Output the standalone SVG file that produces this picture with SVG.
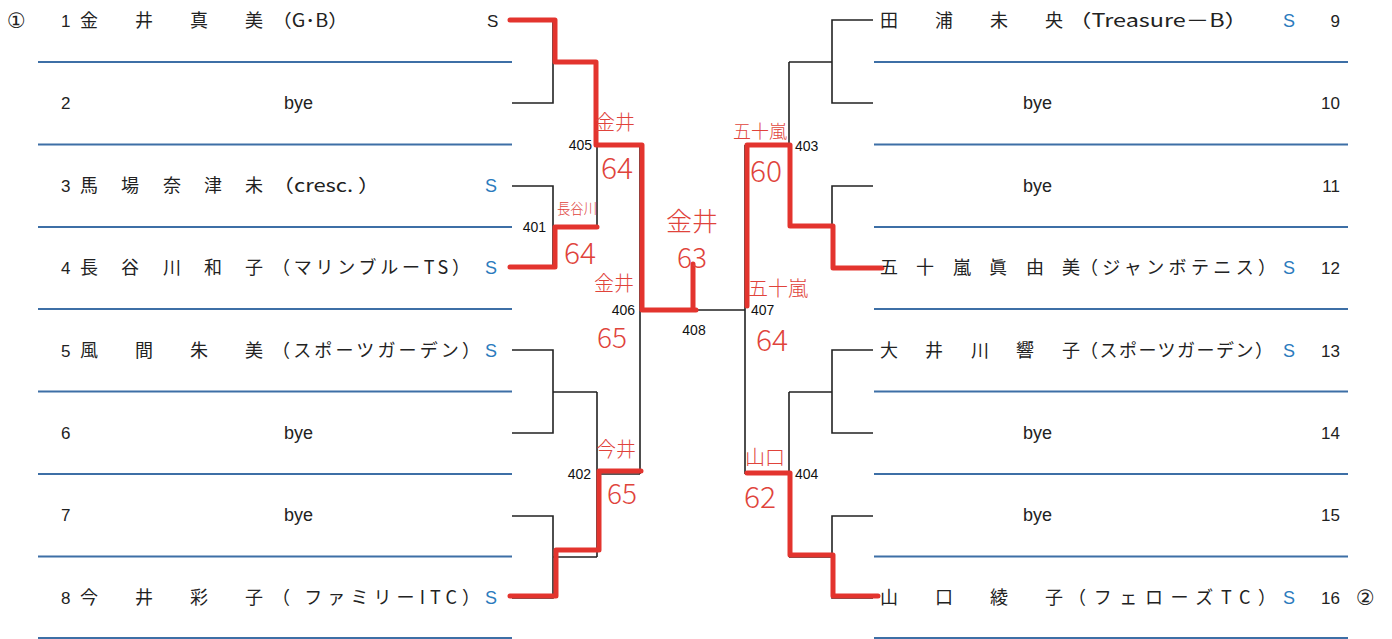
<svg xmlns="http://www.w3.org/2000/svg" width="1392" height="639" viewBox="0 0 1392 639">
<style>
.t{font-family:"Liberation Sans","Noto Sans CJK JP",sans-serif;font-size:18px;fill:#222}
.j{font-family:"Noto Sans CJK JP",sans-serif;font-size:18px;fill:#222}
.c{font-family:"DejaVu Sans","Noto Sans CJK JP",sans-serif;font-size:21px;fill:#222}
.s{font-family:"Liberation Sans",sans-serif;font-size:18px;fill:#2a7bbd}
.n{font-family:"Liberation Sans",sans-serif;font-size:17px;fill:#222}
.m{font-family:"Liberation Sans",sans-serif;font-size:14px;fill:#111}
.h{font-family:"Noto Sans CJK JP",sans-serif;fill:#e0433b;font-weight:300}
.b{stroke:#3d6fa6;stroke-width:2;fill:none}
.k{stroke:#222;stroke-width:1.6;fill:none}
.r{stroke:#e3342e;stroke-width:5;fill:none;stroke-linecap:round;stroke-linejoin:round}
</style>
<rect width="1392" height="639" fill="#fff"/>
<g id="rules">
<path class="b" d="M38,62H512M38,144.5H512M38,227H512M38,309H512M38,391.5H512M38,474H512M38,556.5H512M38,638H512"/>
<path class="b" d="M874,62H1348M874,144.5H1348M874,227H1348M874,309H1348M874,391.5H1348M874,474H1348M874,556.5H1348M874,638H1348"/>
</g>
<g id="connectors">
<path class="k" d="M512,20H553V103H512M553,62H597M512,186H553V268H512M553,227H597M597,62V227M597,145H640"/>
<path class="k" d="M512,350H553V433H512M553,392H597M512,516H553V598H512M553,557H597M597,392V557M597,474H640"/>
<path class="k" d="M640,145V474M640,310H745M745,145V474M745,145H789M745,474H789"/>
<path class="k" d="M789,62V227M789,62H832M789,227H832M873,20H832V103H873M873,186H832V268H873"/>
<path class="k" d="M789,392V557M789,392H832M789,557H832M873,350H832V433H873M873,516H832V598H873"/>
</g>
<g id="results">
<path class="r" d="M510,20H555V62H596V145H642V310H696M693,264V310"/>
<path class="r" d="M510,267H555V227H597"/>
<path class="r" d="M510,596H556V550H599V471H641"/>
<path class="r" d="M882,268H833V226H790V145H747V306"/>
<path class="r" d="M878,596H833V555H790V473H747"/>
</g>
<g id="p1"><text class="c" x="7" y="28">①</text><text class="n" x="61" y="27">1</text><text class="j" x="80 135 190 245" y="27">金井真美</text><text class="j" x="272" y="27" textLength="76" lengthAdjust="spacingAndGlyphs">（G･B）</text><text class="n" x="487" y="27">S</text></g>
<g id="p2"><text class="n" x="61" y="109">2</text><text class="t" x="284" y="109">bye</text></g>
<g id="p3"><text class="n" x="61" y="192">3</text><text class="j" x="80 121 163 204 245" y="192">馬場奈津未</text><text class="j" x="272" y="192" textLength="108" lengthAdjust="spacingAndGlyphs">（cresc. ）</text><text class="s" x="485" y="192">S</text></g>
<g id="p4"><text class="n" x="61" y="274">4</text><text class="j" x="80 121 163 204 245" y="274">長谷川和子</text><text class="j" x="272" y="274" textLength="198" lengthAdjust="spacing">（マリンブルーTS）</text><text class="s" x="485" y="274">S</text></g>
<g id="p5"><text class="n" x="61" y="357">5</text><text class="j" x="80 135 190 245" y="357">風間朱美</text><text class="j" x="272" y="357" textLength="208" lengthAdjust="spacing">（スポーツガーデン）</text><text class="s" x="485" y="357">S</text></g>
<g id="p6"><text class="n" x="61" y="439">6</text><text class="t" x="284" y="439">bye</text></g>
<g id="p7"><text class="n" x="61" y="521">7</text><text class="t" x="284" y="521">bye</text></g>
<g id="p8"><text class="n" x="61" y="604">8</text><text class="j" x="80 135 190 245" y="604">今井彩子</text><text class="j" x="272" y="604" textLength="208" lengthAdjust="spacing">（ ファミリーITC）</text><text class="s" x="485" y="604">S</text></g>
<g id="p9"><text class="j" x="880 935 990 1045" y="27">田浦未央</text><text class="j" x="1068" y="27" textLength="180" lengthAdjust="spacingAndGlyphs">（Treasure－B）</text><text class="s" x="1283" y="27">S</text><text class="n" x="1340" y="27" text-anchor="end">9</text></g>
<g id="p10"><text class="t" x="1023" y="109">bye</text><text class="n" x="1340" y="109" text-anchor="end">10</text></g>
<g id="p11"><text class="t" x="1023" y="192">bye</text><text class="n" x="1340" y="192" text-anchor="end">11</text></g>
<g id="p12"><text class="j" x="880 916 953 989 1026 1062" y="274">五十嵐眞由美</text><text class="j" x="1080" y="274" textLength="196" lengthAdjust="spacing">（ジャンボテニス）</text><text class="s" x="1283" y="274">S</text><text class="n" x="1340" y="274" text-anchor="end">12</text></g>
<g id="p13"><text class="j" x="880 925 971 1016 1062" y="357">大井川響子</text><text class="j" x="1080" y="357" font-size="16" textLength="193" lengthAdjust="spacing">（スポーツガーデン）</text><text class="s" x="1283" y="357">S</text><text class="n" x="1340" y="357" text-anchor="end">13</text></g>
<g id="p14"><text class="t" x="1023" y="439">bye</text><text class="n" x="1340" y="439" text-anchor="end">14</text></g>
<g id="p15"><text class="t" x="1023" y="521">bye</text><text class="n" x="1340" y="521" text-anchor="end">15</text></g>
<g id="p16"><text class="j" x="880 935 990 1045" y="604">山口綾子</text><text class="j" x="1068" y="604" textLength="208" lengthAdjust="spacing">（フェローズTC）</text><text class="s" x="1283" y="604">S</text><text class="n" x="1340" y="604" text-anchor="end">16</text><text class="c" x="1356" y="605">②</text></g>
<g id="m401"><text class="m" x="546" y="232" text-anchor="end">401</text></g>
<g id="m402"><text class="m" x="591" y="479" text-anchor="end">402</text></g>
<g id="m403"><text class="m" x="795" y="151">403</text></g>
<g id="m404"><text class="m" x="795" y="479">404</text></g>
<g id="m405"><text class="m" x="592" y="150" text-anchor="end">405</text></g>
<g id="m406"><text class="m" x="635" y="315" text-anchor="end">406</text></g>
<g id="m407"><text class="m" x="751" y="315">407</text></g>
<g id="m408"><text class="m" x="694" y="335" text-anchor="middle">408</text></g>
<g id="notes">
<text class="h" x="615" y="130" font-size="20" text-anchor="middle">金井</text>
<text class="h" x="617" y="179" font-size="30" text-anchor="middle">64</text>
<text class="h" x="557" y="214" font-size="15" textLength="40" lengthAdjust="spacingAndGlyphs">長谷川</text>
<text class="h" x="580" y="264" font-size="30" text-anchor="middle">64</text>
<text class="h" x="692" y="231" font-size="26" text-anchor="middle">金井</text>
<text class="h" x="692" y="268" font-size="28" text-anchor="middle">63</text>
<text class="h" x="614" y="291" font-size="20" text-anchor="middle">金井</text>
<text class="h" x="612" y="348" font-size="28" text-anchor="middle">65</text>
<text class="h" x="760" y="138" font-size="18" text-anchor="middle">五十嵐</text>
<text class="h" x="766" y="182" font-size="30" text-anchor="middle">60</text>
<text class="h" x="778" y="296" font-size="20" text-anchor="middle">五十嵐</text>
<text class="h" x="772" y="351" font-size="30" text-anchor="middle">64</text>
<text class="h" x="616" y="457" font-size="20" text-anchor="middle">今井</text>
<text class="h" x="622" y="504" font-size="28" text-anchor="middle">65</text>
<text class="h" x="765" y="465" font-size="20" text-anchor="middle">山口</text>
<text class="h" x="760" y="508" font-size="30" text-anchor="middle">62</text>
</g>
</svg>
